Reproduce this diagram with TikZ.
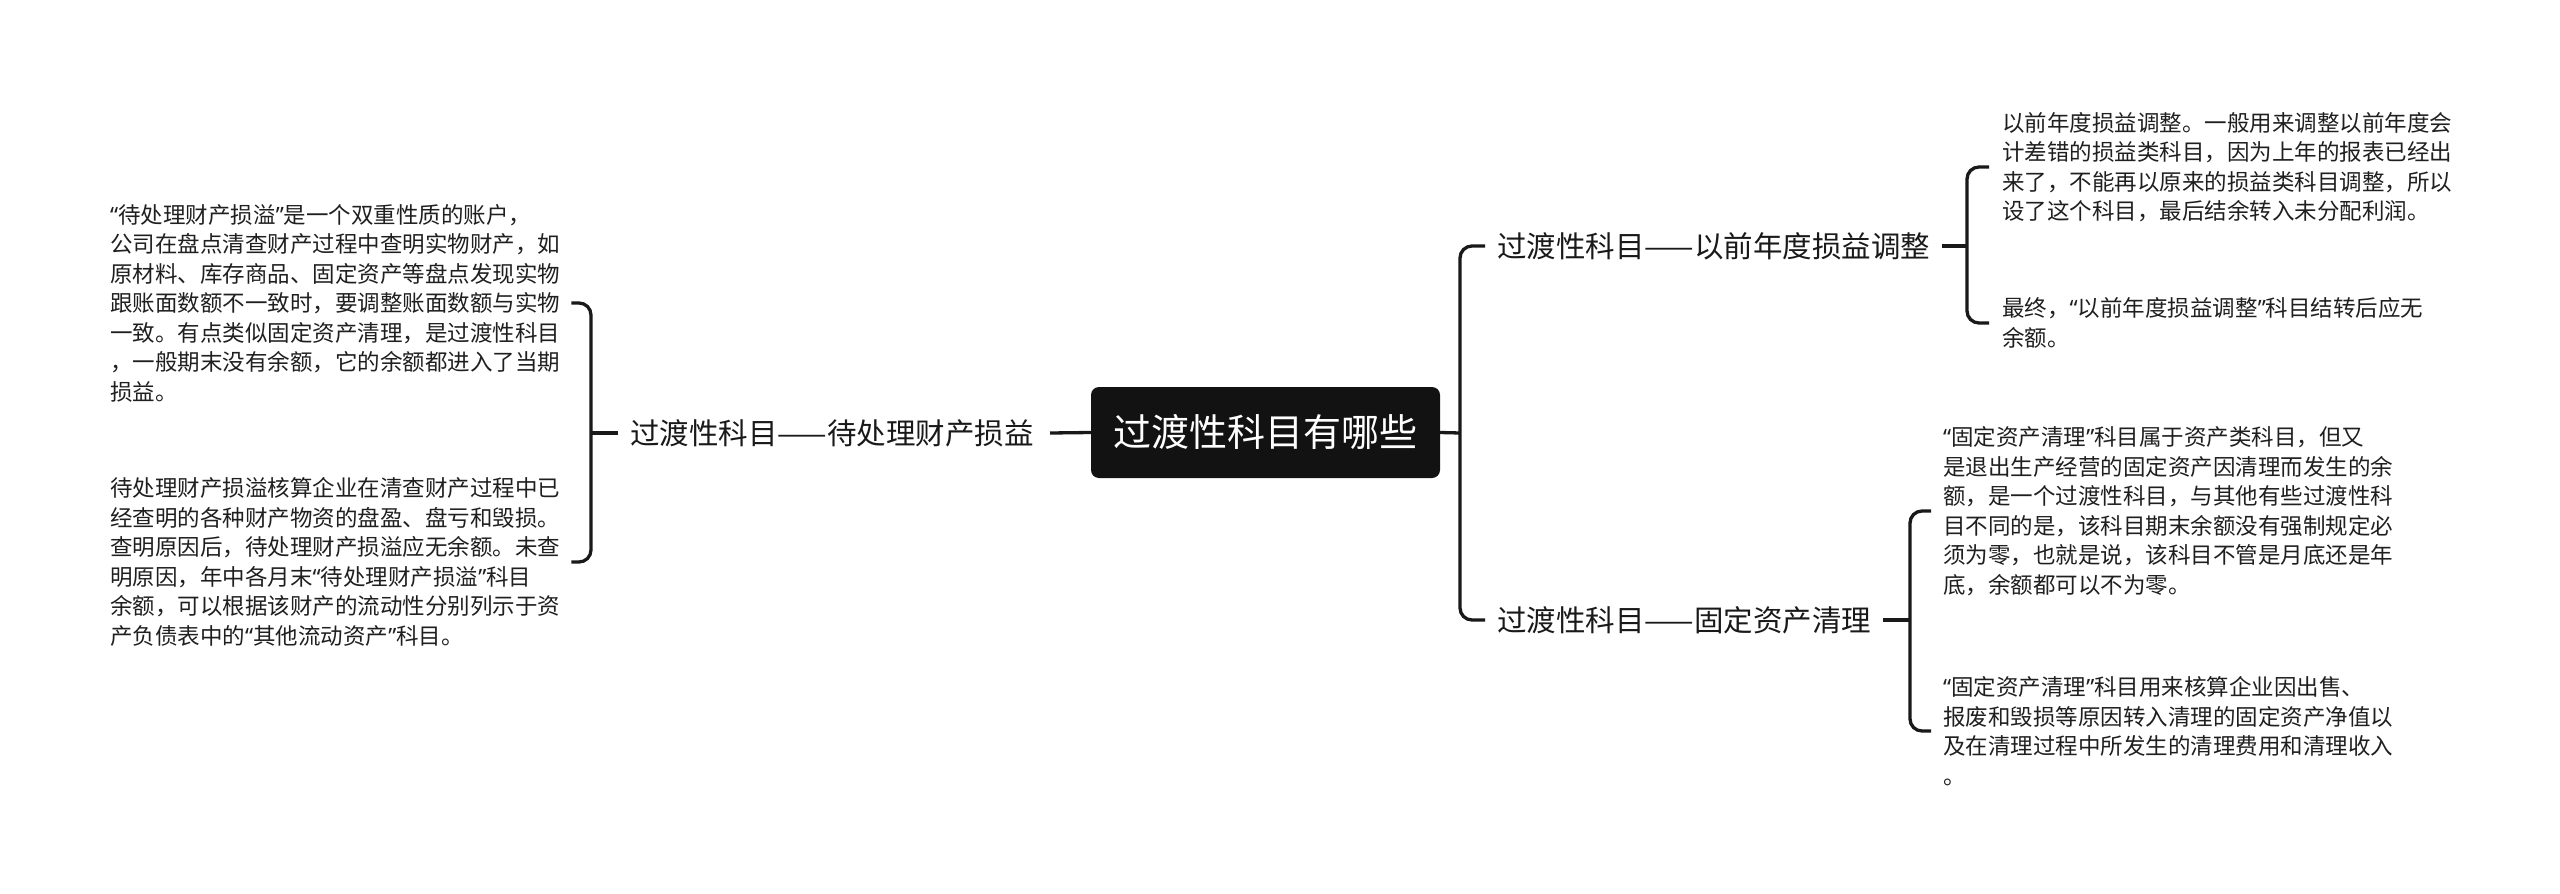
\documentclass[tikz,border=0pt]{standalone}
\usepackage{fontspec}
\setmainfont{Noto Sans CJK SC}
\newfontfamily\qtfont{Noto Sans}
\newcommand\myoq{{\qtfont “}}
\newcommand\mycq{{\qtfont ”}}
\begin{document}
\begin{tikzpicture}[x=1pt,y=-1pt,
  conn/.style={line width=3.3pt, draw=black!90, rounded corners=12pt},
  leaf/.style={font=\fontsize{22.5}{29.5}\selectfont, align=left, inner sep=0pt, text=black!88},
  branch/.style={font=\fontsize{29.5}{34}\selectfont, inner sep=0pt, text=black!90},
  rootbox/.style={fill=black!93, rounded corners=8pt, text=white, font=\fontsize{38}{44}\selectfont, minimum width=349pt, minimum height=91pt, inner sep=0pt}]
\useasboundingbox (0,0) rectangle (2560,894);
\node[rootbox] (root) at (1265.5,432.5) {过渡性科目有哪些};
\node[branch, anchor=east] (L) at (1034,433) {过渡性科目——待处理财产损益};
\node[branch, anchor=west] (R1) at (1497,246) {过渡性科目——以前年度损益调整};
\node[branch, anchor=west] (R2) at (1497,620) {过渡性科目——固定资产清理};
\node[leaf, anchor=west] (L1) at (110,303) {\myoq 待处理财产损溢\mycq 是一个双重性质的账户，\\公司在盘点清查财产过程中查明实物财产，如\\原材料、库存商品、固定资产等盘点发现实物\\跟账面数额不一致时，要调整账面数额与实物\\一致。有点类似固定资产清理，是过渡性科目\\，一般期末没有余额，它的余额都进入了当期\\损益。};
\node[leaf, anchor=west] (L2) at (110,562) {待处理财产损溢核算企业在清查财产过程中已\\经查明的各种财产物资的盘盈、盘亏和毁损。\\查明原因后，待处理财产损溢应无余额。未查\\明原因，年中各月末\myoq 待处理财产损溢\mycq 科目\\余额，可以根据该财产的流动性分别列示于资\\产负债表中的\myoq 其他流动资产\mycq 科目。};
\node[leaf, anchor=west] (R1a) at (2002,167) {以前年度损益调整。一般用来调整以前年度会\\计差错的损益类科目，因为上年的报表已经出\\来了，不能再以原来的损益类科目调整，所以\\设了这个科目，最后结余转入未分配利润。};
\node[leaf, anchor=west] (R1b) at (2002,323) {最终，\myoq 以前年度损益调整\mycq 科目结转后应无\\余额。};
\node[leaf, anchor=west] (R2a) at (1943,511) {\myoq 固定资产清理\mycq 科目属于资产类科目，但又\\是退出生产经营的固定资产因清理而发生的余\\额，是一个过渡性科目，与其他有些过渡性科\\目不同的是，该科目期末余额没有强制规定必\\须为零，也就是说，该科目不管是月底还是年\\底，余额都可以不为零。};
\node[leaf, anchor=west] (R2b) at (1943,731) {\myoq 固定资产清理\mycq 科目用来核算企业因出售、\\报废和毁损等原因转入清理的固定资产净值以\\及在清理过程中所发生的清理费用和清理收入\\。};
% left side
\coordinate (lj) at (591,433);
\draw[conn] (root.west) -- ([xshift=16pt]L.east);
\draw[conn] ([xshift=-12pt]L.west) -- (lj);
\draw[conn] ([xshift=11pt]L1.east) -- (L1.east -| lj) -- (L2.east -| lj) -- ([xshift=11pt]L2.east);
% right side
\coordinate (rj) at (1460,433);
\draw[conn] (root.east) -- (rj);
\draw[conn] ([xshift=-12pt]R1.west) -- (R1.west -| rj) -- (R2.west -| rj) -- ([xshift=-12pt]R2.west);
% top right
\coordinate (r1j) at (1967,246);
\draw[conn] ([xshift=12pt]R1.east) -- (r1j);
\draw[conn] ([xshift=-13pt]R1a.west) -- (R1a.west -| r1j) -- (R1b.west -| r1j) -- ([xshift=-13pt]R1b.west);
% bottom right
\coordinate (r2j) at (1910,620);
\draw[conn] ([xshift=12pt]R2.east) -- (r2j);
\draw[conn] ([xshift=-12pt]R2a.west) -- (R2a.west -| r2j) -- (R2b.west -| r2j) -- ([xshift=-12pt]R2b.west);
\end{tikzpicture}
\end{document}
